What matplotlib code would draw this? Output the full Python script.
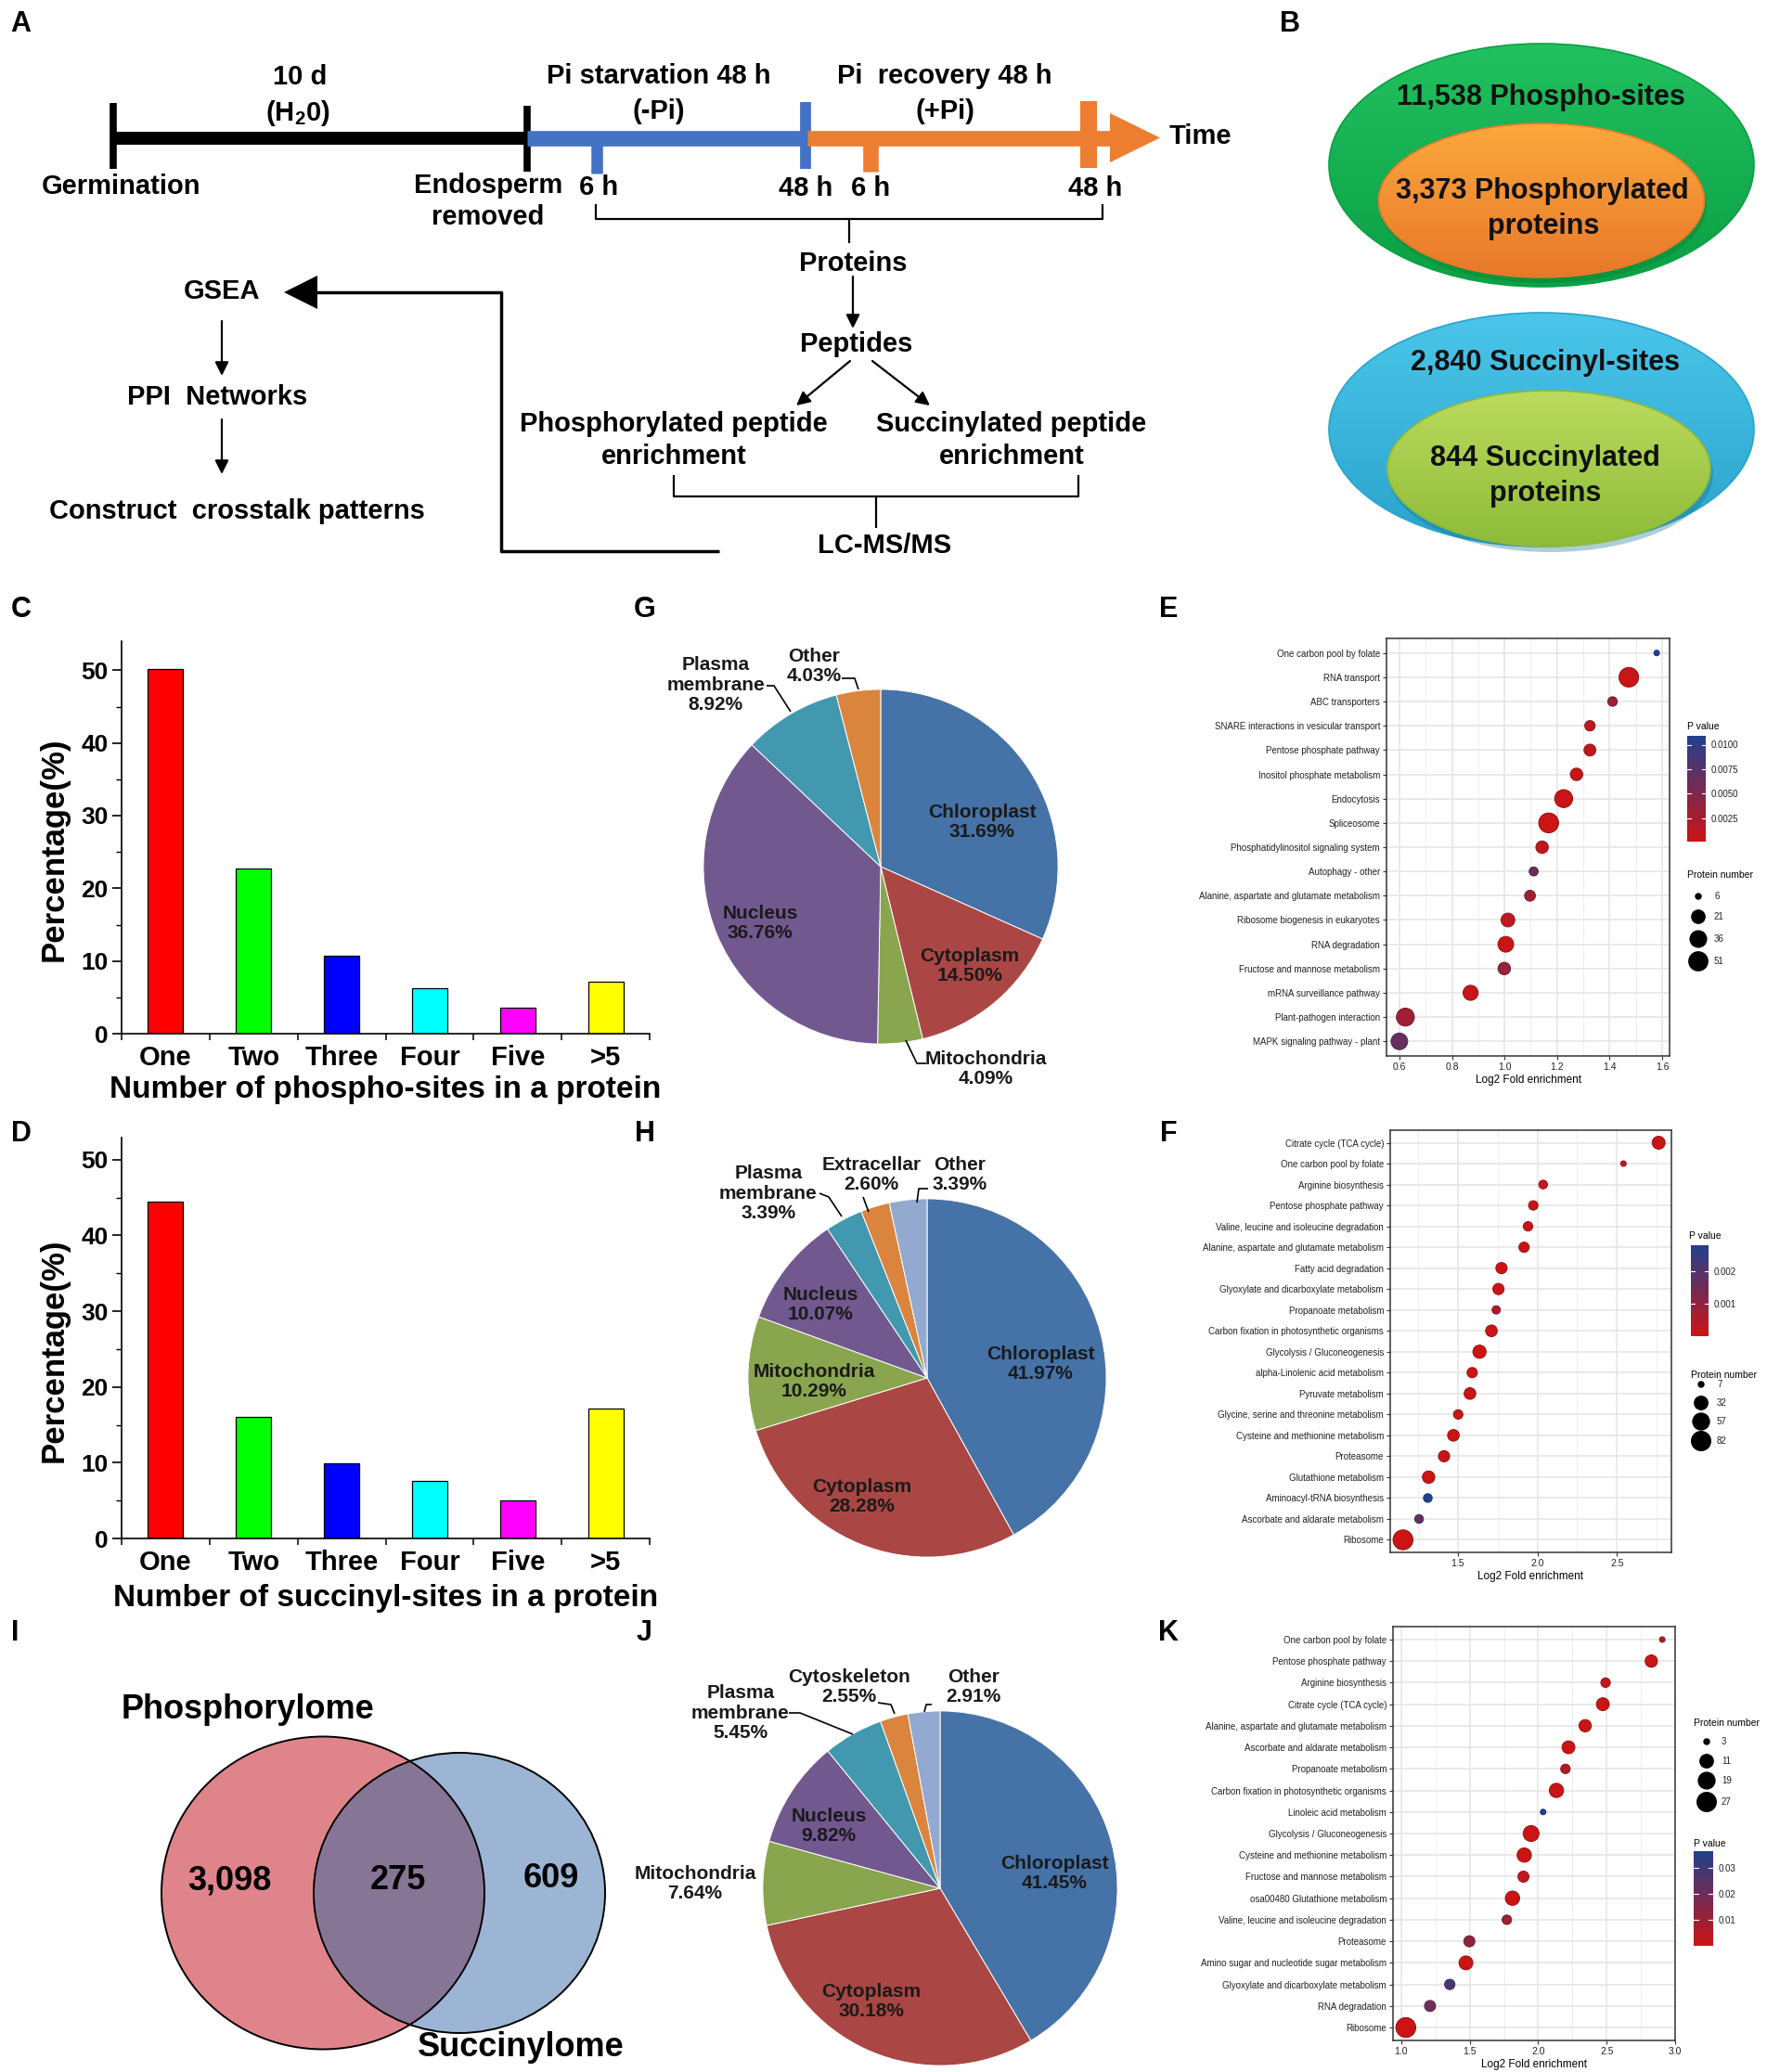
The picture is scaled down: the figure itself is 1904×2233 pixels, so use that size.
import numpy as np
import matplotlib.pyplot as plt
from matplotlib.patches import Ellipse, Polygon
from matplotlib.colors import LinearSegmentedColormap, Normalize
from matplotlib.ticker import MultipleLocator, FixedLocator

plt.rcParams['font.family'] = ['Liberation Sans', 'DejaVu Sans']
plt.rcParams['mathtext.fontset'] = 'custom'
plt.rcParams['mathtext.rm'] = 'Liberation Sans:bold'
plt.rcParams['mathtext.bf'] = 'Liberation Sans:bold'

# ---------------- data ----------------
phospho_sites, phospho_proteins = 11538, 3373
succinyl_sites, succinyl_proteins = 2840, 844

site_labels = ['One', 'Two', 'Three', 'Four', 'Five', '>5']
phospho_pct = [50.2, 22.7, 10.7, 6.2, 3.6, 7.1]
succinyl_pct = [44.5, 16.1, 9.9, 7.6, 5.0, 17.2]
bar_colors = ['#FF0000', '#00FF00', '#0000FF', '#00FFFF', '#FF00FF', '#FFFF00']

g_names = ['Chloroplast', 'Cytoplasm', 'Mitochondria', 'Nucleus', 'Plasma membrane', 'Other']
g_pct = [31.69, 14.50, 4.09, 36.76, 8.92, 4.03]
h_names = ['Chloroplast', 'Cytoplasm', 'Mitochondria', 'Nucleus', 'Plasma membrane', 'Extracellar', 'Other']
h_pct = [41.97, 28.28, 10.29, 10.07, 3.39, 2.60, 3.39]
j_names = ['Chloroplast', 'Cytoplasm', 'Mitochondria', 'Nucleus', 'Plasma membrane', 'Cytoskeleton', 'Other']
j_pct = [41.45, 30.18, 7.64, 9.82, 5.45, 2.55, 2.91]

venn_phospho_only, venn_both, venn_succ_only = 3098, 275, 609

e_terms = ['One carbon pool by folate', 'RNA transport', 'ABC transporters',
           'SNARE interactions in vesicular transport', 'Pentose phosphate pathway',
           'Inositol phosphate metabolism', 'Endocytosis', 'Spliceosome',
           'Phosphatidylinositol signaling system', 'Autophagy - other',
           'Alanine, aspartate and glutamate metabolism', 'Ribosome biogenesis in eukaryotes',
           'RNA degradation', 'Fructose and mannose metabolism', 'mRNA surveillance pathway',
           'Plant-pathogen interaction', 'MAPK signaling pathway - plant']
e_fold = [1.579, 1.473, 1.411, 1.325, 1.325, 1.274, 1.225, 1.168, 1.143, 1.111, 1.097,
          1.013, 1.005, 0.999, 0.871, 0.623, 0.600]
e_count = [6, 56, 10, 12, 16, 18, 45, 58, 18, 9, 13, 23, 32, 18, 29, 45, 37]
e_p = [0.0109, 0.0003, 0.0030, 0.0012, 0.0008, 0.0006, 0.0002, 0.0001, 0.0009, 0.0062,
       0.0030, 0.0010, 0.0003, 0.0035, 0.0005, 0.0028, 0.0068]

f_terms = ['Citrate cycle (TCA cycle)', 'One carbon pool by folate', 'Arginine biosynthesis',
           'Pentose phosphate pathway', 'Valine, leucine and isoleucine degradation',
           'Alanine, aspartate and glutamate metabolism', 'Fatty acid degradation',
           'Glyoxylate and dicarboxylate metabolism', 'Propanoate metabolism',
           'Carbon fixation in photosynthetic organisms', 'Glycolysis / Gluconeogenesis',
           'alpha-Linolenic acid metabolism', 'Pyruvate metabolism',
           'Glycine, serine and threonine metabolism', 'Cysteine and methionine metabolism',
           'Proteasome', 'Glutathione metabolism', 'Aminoacyl-tRNA biosynthesis',
           'Ascorbate and aldarate metabolism', 'Ribosome']
f_fold = [2.762, 2.541, 2.036, 1.974, 1.941, 1.916, 1.774, 1.755, 1.741, 1.711, 1.636,
          1.590, 1.576, 1.502, 1.472, 1.413, 1.316, 1.311, 1.256, 1.155]
f_count = [29, 7, 11, 13, 13, 16, 20, 20, 10, 22, 31, 16, 22, 13, 22, 20, 26, 11, 11, 90]
f_p = [0.00002, 0.0002, 0.0001, 0.00005, 0.00003, 0.00008, 0.00001, 0.00002, 0.0005,
       0.00003, 0.00001, 0.00004, 0.00002, 0.00006, 0.00001, 0.00005, 0.00002, 0.0028,
       0.0018, 0.000001]

k_terms = ['One carbon pool by folate', 'Pentose phosphate pathway', 'Arginine biosynthesis',
           'Citrate cycle (TCA cycle)', 'Alanine, aspartate and glutamate metabolism',
           'Ascorbate and aldarate metabolism', 'Propanoate metabolism',
           'Carbon fixation in photosynthetic organisms', 'Linoleic acid metabolism',
           'Glycolysis / Gluconeogenesis', 'Cysteine and methionine metabolism',
           'Fructose and mannose metabolism', 'osa00480 Glutathione metabolism',
           'Valine, leucine and isoleucine degradation', 'Proteasome',
           'Amino sugar and nucleotide sugar metabolism',
           'Glyoxylate and dicarboxylate metabolism', 'RNA degradation', 'Ribosome']
k_fold = [2.906, 2.826, 2.492, 2.472, 2.343, 2.221, 2.199, 2.133, 2.036, 1.948, 1.898,
          1.892, 1.812, 1.771, 1.497, 1.472, 1.354, 1.210, 1.033]
k_count = [3, 9, 5, 10, 9, 10, 5, 13, 3, 17, 13, 7, 13, 5, 7, 12, 6, 7, 30]
k_p = [0.006, 0.0005, 0.001, 0.0002, 0.0008, 0.0003, 0.006, 0.0004, 0.0363, 0.0001,
       0.0003, 0.003, 0.0002, 0.010, 0.013, 0.0006, 0.027, 0.020, 0.00005]

# ---------------- figure ----------------
W, H = 1904, 2233
fig = plt.figure(figsize=(W / 100, H / 100), dpi=100)
fig.patch.set_facecolor('white')

bg = fig.add_axes([0, 0, 1, 1])
bg.axis('off')
bg.set_zorder(10)


def px_axes(l, t, r, b):
    return fig.add_axes([l / W, 1 - b / H, (r - l) / W, (b - t) / H])


def txt(x, y, s, size=21, **kw):
    kw.setdefault('ha', 'center')
    kw.setdefault('va', 'center')
    kw.setdefault('fontweight', 'bold')
    bg.text(x, y, s, fontsize=size, zorder=5, **kw)


def seg(pts, lw=1.5, color='black', **kw):
    pts = np.array(pts)
    bg.plot(pts[:, 0], pts[:, 1], color=color, lw=lw, solid_capstyle='butt', **kw)


def arrow(p0, p1, lw=1.6, ms=22):
    bg.annotate('', xy=p1, xytext=p0,
                arrowprops=dict(arrowstyle='-|>', color='black', lw=lw,
                                mutation_scale=ms, shrinkA=0, shrinkB=0))


# panel letters
for letter, (x, y) in {'A': (22, 26), 'B': (1390, 26), 'C': (23, 657), 'G': (695, 657),
                       'E': (1259, 657), 'D': (23, 1222), 'H': (695, 1222), 'F': (1259, 1222),
                       'I': (16, 1760), 'J': (694, 1760), 'K': (1259, 1760)}.items():
    txt(x, y, letter, size=22)

# ---------------- A: workflow ----------------
blue_c, orange_c = '#4472C4', '#ED7D31'
seg([(122, 149), (568, 149)], lw=10)
seg([(122, 111), (122, 182)], lw=5.5)
seg([(568, 114), (568, 185)], lw=5.5)
seg([(568, 148.5), (870, 148.5)], lw=12, color=blue_c)
seg([(643, 148), (643, 187)], lw=9, color=blue_c)
seg([(868, 110), (868, 182)], lw=8.5, color=blue_c)
seg([(870, 148.5), (1198, 148.5)], lw=12, color=orange_c)
seg([(938, 148), (938, 185)], lw=12, color=orange_c)
seg([(1173, 109), (1173, 181)], lw=13, color=orange_c)
bg.add_patch(Polygon([(1196, 122), (1250, 148.5), (1196, 175)], closed=True,
                     fc=orange_c, ec='none'))

txt(323, 83, '10 d')
txt(321, 122, r'(H$_\mathbf{2}$0)')
txt(710, 82, 'Pi starvation 48 h')
txt(710, 120, '(-Pi)')
txt(1018, 82, 'Pi  recovery 48 h')
txt(1018, 120, '(+Pi)')
txt(1260, 147, 'Time', ha='left')
txt(131, 201, 'Germination')
txt(526, 200, 'Endosperm')
txt(526, 234, 'removed')
txt(645, 202, '6 h')
txt(868, 203, '48 h')
txt(938, 203, '6 h')
txt(1180, 203, '48 h')

seg([(642, 220), (642, 236), (1188, 236), (1188, 220)], lw=1.6)
seg([(915, 236), (915, 262)], lw=1.6)
txt(919, 284, 'Proteins')
arrow((919, 298), (919, 354))
txt(923, 371, 'Peptides')
arrow((916, 389), (858, 437))
arrow((940, 389), (1002, 437))
txt(726, 457, 'Phosphorylated peptide')
txt(726, 492, 'enrichment')
txt(1090, 457, 'Succinylated peptide')
txt(1090, 492, 'enrichment')
seg([(726, 512), (726, 535), (1162, 535), (1162, 512)], lw=1.6)
seg([(944, 535), (944, 569)], lw=1.6)
txt(953, 588, 'LC-MS/MS')
seg([(775, 594), (540, 594), (540, 315), (338, 315)], lw=2.5)
bg.add_patch(Polygon([(342, 297), (306, 315), (342, 333)], closed=True, fc='black', ec='none'))
txt(239, 314, 'GSEA')
arrow((239, 346), (239, 405))
txt(234, 428, 'PPI  Networks')
arrow((239, 452), (239, 511))
txt(255, 551, 'Construct  crosstalk patterns')

# ---------------- B: nested ellipses ----------------


def grad_ellipse(cx, cy, w, h, c_top, c_bot, z):
    e = Ellipse((cx, cy), w, h, fc='none', ec=c_bot, lw=1.2, zorder=z + 0.05)
    bg.add_patch(e)
    cm = LinearSegmentedColormap.from_list('g', [c_top, c_bot])
    im = bg.imshow(np.linspace(0, 1, 200)[:, None], cmap=cm, aspect='auto',
                   extent=[cx - w / 2, cx + w / 2, cy + h / 2, cy - h / 2], zorder=z)
    im.set_clip_path(e)


grad_ellipse(1661, 178, 458, 262, '#22C060', '#0AA043', 1)
bg.add_patch(Ellipse((1663, 222), 352, 166, fc='#077A30', ec='none', alpha=0.35, zorder=1.1))
grad_ellipse(1661, 216, 351, 166, '#FBA83C', '#E8782A', 1.2)
grad_ellipse(1661, 463, 458, 252, '#4BC6EA', '#2AA3CC', 1)
bg.add_patch(Ellipse((1671, 511), 350, 168, fc='#16708E', ec='none', alpha=0.35, zorder=1.1))
grad_ellipse(1669, 505, 348, 168, '#BCDB5E', '#8DBB38', 1.2)
txt(1660, 105, f'{phospho_sites:,} Phospho-sites', size=22, color='#111111')
txt(1662, 206, f'{phospho_proteins:,} Phosphorylated', size=22, color='#111111')
txt(1663, 244, 'proteins', size=22, color='#111111')
txt(1665, 391, f'{succinyl_sites:,} Succinyl-sites', size=22, color='#111111')
txt(1665, 494, f'{succinyl_proteins} Succinylated', size=22, color='#111111')
txt(1665, 532, 'proteins', size=22, color='#111111')

# ---------------- C, D: bar charts ----------------


def bar_panel(rect, vals, ymax, xlabel, xlab_y, ylab_y):
    ax = px_axes(*rect)
    x = np.arange(len(site_labels))
    ax.bar(x, vals, width=0.4, color=bar_colors, edgecolor='black', linewidth=0.9)
    ax.set_xlim(-0.5, len(x) - 0.5)
    ax.set_ylim(0, ymax)
    for s in ['top', 'right']:
        ax.spines[s].set_visible(False)
    for s in ['left', 'bottom']:
        ax.spines[s].set_linewidth(1.2)
    ax.set_xticks(x)
    ax.set_xticklabels(site_labels, fontsize=21, fontweight='bold')
    ax.xaxis.set_minor_locator(FixedLocator(np.arange(-0.5, len(x), 1)))
    ax.tick_params(axis='x', which='major', length=0, pad=8.5)
    ax.tick_params(axis='x', which='minor', length=5, width=1.1)
    ax.yaxis.set_major_locator(MultipleLocator(10))
    ax.yaxis.set_minor_locator(MultipleLocator(5))
    ax.tick_params(axis='y', which='major', length=7, width=1.2, labelsize=19)
    ax.tick_params(axis='y', which='minor', length=4, width=1.0)
    for lb in ax.get_yticklabels():
        lb.set_fontweight('bold')
    txt((rect[0] + rect[2]) / 2, xlab_y, xlabel, size=24)
    txt(58, ylab_y, 'Percentage(%)', size=25, rotation=90)
    return ax


bar_panel((131, 691, 700, 1114), phospho_pct, 54, 'Number of phospho-sites in a protein',
          1175, 915)
bar_panel((131, 1226, 700, 1658), succinyl_pct, 52.9, 'Number of succinyl-sites in a protein',
          1722, 1455)

# ---------------- G, H, J: pies ----------------
pie_palette = {'Chloroplast': '#4572A7', 'Cytoplasm': '#AA4643', 'Mitochondria': '#89A54E',
               'Nucleus': '#71588F', 'Plasma membrane': '#4198AF'}


def pie_panel(cx, cy, r, names, pct, other_colors, label_pos, leaders):
    ax = px_axes(cx - r, cy - r, cx + r, cy + r)
    cols = [pie_palette.get(n) or other_colors[n] for n in names]
    ax.pie(pct, colors=cols, startangle=90, counterclock=False, radius=1,
           wedgeprops=dict(edgecolor='white', linewidth=0.7))
    ax.set_xlim(-1.01, 1.01)
    ax.set_ylim(-1.01, 1.01)
    ax.axis('off')
    for n, p in zip(names, pct):
        lab = n.replace(' ', '\n') + f'\n{p:.2f}%'
        x, y = label_pos[n]
        txt(x, y, lab, size=15, color='#1a1a1a', linespacing=1.15)
    for pts in leaders:
        seg(pts, lw=1.2)


pie_panel(949, 934, 193, g_names, g_pct, {'Other': '#DB843D'},
          {'Chloroplast': (1058, 886), 'Cytoplasm': (1045, 1041), 'Mitochondria': (1062, 1152),
           'Nucleus': (819, 995), 'Plasma membrane': (771, 738), 'Other': (877, 718)},
          [[(826, 739), (834, 739), (852, 767)], [(907, 731), (921, 731), (925, 743)],
           [(998, 1146), (988, 1146), (976, 1121)]])

pie_panel(999, 1485, 195, h_names, h_pct, {'Extracellar': '#DB843D', 'Other': '#93A9CF'},
          {'Chloroplast': (1121, 1470), 'Cytoplasm': (929, 1613), 'Mitochondria': (877, 1489),
           'Nucleus': (884, 1406), 'Plasma membrane': (828, 1286), 'Extracellar': (939, 1266),
           'Other': (1034, 1266)},
          [[(883, 1286), (893, 1290), (907, 1311)], [(930, 1290), (936, 1306)],
           [(1000, 1281), (990, 1281), (988, 1296)]])

pie_panel(1013, 2035, 193, j_names, j_pct, {'Cytoskeleton': '#DB843D', 'Other': '#93A9CF'},
          {'Chloroplast': (1136, 2019), 'Cytoplasm': (939, 2157), 'Mitochondria': (749, 2030),
           'Nucleus': (893, 1968), 'Plasma membrane': (798, 1846), 'Cytoskeleton': (915, 1818),
           'Other': (1049, 1818)},
          [[(850, 1846), (862, 1846), (919, 1869)], [(946, 1835), (960, 1837), (964, 1847)],
           [(1004, 1837), (998, 1837), (996, 1845)]])

# ---------------- I: Venn ----------------
pink = Ellipse((348, 2040), 348, 337, fc='#E0848B', ec='none', zorder=1)
blue = Ellipse((495, 2040), 314, 302, fc='#9CB5D4', ec='none', zorder=1.1)
bg.add_patch(pink)
bg.add_patch(blue)
inter = Ellipse((348, 2040), 348, 337, fc='#877596', ec='none', zorder=1.2)
bg.add_patch(inter)
inter.set_clip_path(blue)
bg.add_patch(Ellipse((348, 2040), 348, 337, fill=False, ec='black', lw=1.4, zorder=1.3))
bg.add_patch(Ellipse((495, 2040), 314, 302, fill=False, ec='black', lw=1.4, zorder=1.3))
txt(267, 1843, 'Phosphorylome', size=26)
txt(561, 2206, 'Succinylome', size=26)
txt(247, 2027, f'{venn_phospho_only:,}', size=26)
txt(429, 2027, f'{venn_both:,}', size=26)
txt(594, 2025, f'{venn_succ_only:,}', size=26)

# ---------------- E, F, K: enrichment dot plots ----------------
pcmap = LinearSegmentedColormap.from_list('pv', ['#CC1414', '#22418F'])


def diam(n, lo, hi):
    return 6 + 15.4 * np.sqrt((np.asarray(n, float) - lo) / (hi - lo))


def dot_panel(rect, terms, fold, count, pval, xmajor, xminor, leg_counts, pticks, pfmt,
              pv_title, cbar_rect, pn_title, dots_x, dots_y, lab_x):
    ax = px_axes(*rect)
    n = len(terms)
    y = np.arange(n)[::-1]
    lo, hi = min(count), max(count)
    pnorm = Normalize(min(pval), max(pval))
    face = pcmap(pnorm(pval))
    edge = [tuple(np.array(c[:3]) * 0.75) for c in face]
    ax.scatter(fold, y, s=(diam(count, lo, hi) * 0.72) ** 2, c=face, edgecolors=edge,
               linewidths=0.7, zorder=3)
    span = max(fold) - min(fold)
    ax.set_xlim(min(fold) - 0.05 * span, max(fold) + 0.05 * span)
    ax.set_ylim(-0.6, n - 0.4)
    ax.set_yticks(y)
    ax.set_yticklabels(terms)
    ax.set_xticks(xmajor)
    ax.set_xticks(xminor, minor=True)
    ax.xaxis.set_major_formatter(plt.FormatStrFormatter('%.1f'))
    ax.grid(which='major', color='#E6E6E6', lw=1.2, zorder=0)
    ax.grid(which='minor', axis='x', color='#EFEFEF', lw=0.7, zorder=0)
    ax.set_axisbelow(True)
    for s in ax.spines.values():
        s.set_color('#333333')
        s.set_linewidth(1.1)
    ax.tick_params(axis='both', which='major', length=3, width=0.8, color='#333333',
                   labelsize=7, labelcolor='#222222', pad=2)
    ax.tick_params(axis='x', which='major', labelsize=7.5)
    ax.tick_params(which='minor', length=0)
    ax.set_xlabel('Log2 Fold enrichment', fontsize=8.5, labelpad=2)

    # P value colour bar
    txt(pv_title[0], pv_title[1], 'P value', size=7.5, ha='left', fontweight='normal')
    cax = px_axes(*cbar_rect)
    vmin, vmax = min(pval), max(pval)
    cax.imshow(np.linspace(vmin, vmax, 256)[:, None], cmap=pcmap, aspect='auto', origin='lower',
               extent=[0, 1, vmin, vmax], vmin=vmin, vmax=vmax)
    cax.set_xlim(0, 1)
    cax.set_ylim(vmin, vmax)
    cax.set_xticks([])
    cax.yaxis.tick_right()
    cax.set_yticks(pticks)
    cax.set_yticklabels([pfmt % t for t in pticks])
    cax.tick_params(axis='y', length=0, labelsize=7, pad=4, labelcolor='#222222')
    for t in pticks:
        cax.plot([0, 0.22], [t, t], color='white', lw=0.8)
        cax.plot([0.78, 1], [t, t], color='white', lw=0.8)
    for s in cax.spines.values():
        s.set_visible(False)

    # protein number legend
    txt(pn_title[0], pn_title[1], 'Protein number', size=7.5, ha='left', fontweight='normal')
    bg.scatter([dots_x] * len(leg_counts), dots_y, s=(diam(leg_counts, lo, hi) * 0.72) ** 2,
               c='black', zorder=5)
    for v, yy in zip(leg_counts, dots_y):
        txt(lab_x, yy, str(v), size=7, ha='left', fontweight='normal', color='#222222')


dot_panel((1494, 688, 1799, 1138), e_terms, e_fold, e_count, e_p,
          np.arange(0.6, 1.61, 0.2), np.arange(0.7, 1.61, 0.2), [6, 21, 36, 51],
          [0.0025, 0.0050, 0.0075, 0.0100], '%.4f',
          (1818, 783), (1818, 793, 1838, 907), (1818, 943), 1830, [966, 988, 1012, 1036], 1847)

dot_panel((1498, 1218, 1801, 1673), f_terms, f_fold, f_count, f_p,
          [1.5, 2.0, 2.5], [1.25, 1.75, 2.25, 2.75], [7, 32, 57, 82],
          [0.001, 0.002], '%.3f',
          (1820, 1332), (1822, 1342, 1841, 1440), (1822, 1482), 1833, [1492, 1512, 1532, 1553],
          1850)

dot_panel((1501, 1753, 1805, 2199), k_terms, k_fold, k_count, k_p,
          [1.0, 1.5, 2.0, 2.5, 3.0], [1.25, 1.75, 2.25, 2.75], [3, 11, 19, 27],
          [0.01, 0.02, 0.03], '%.2f',
          (1825, 1987), (1825, 1995, 1846, 2097), (1825, 1857), 1839, [1877, 1898, 1919, 1942],
          1855)

bg.set_xlim(0, W)
bg.set_ylim(H, 0)

fig.savefig('out.png', dpi=100, facecolor='white')
